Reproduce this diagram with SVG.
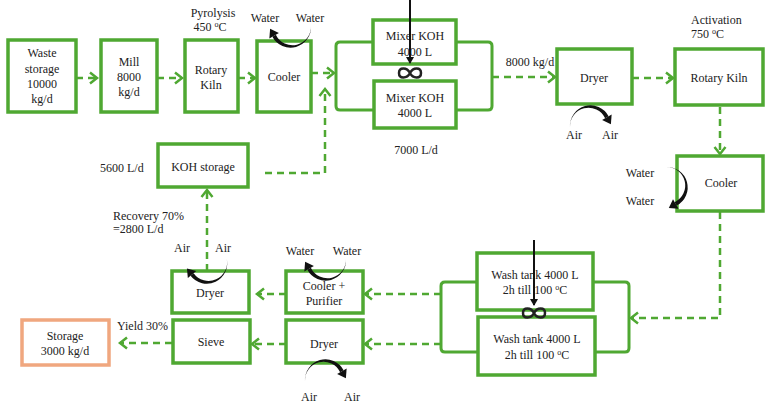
<svg xmlns="http://www.w3.org/2000/svg" width="766" height="405" viewBox="0 0 766 405">
<style>
  .box{fill:#fff;stroke:#4FA832;stroke-width:3.5}
  .box2{fill:#fff;stroke:#F0A77F;stroke-width:3.5}
  text{font-family:"Liberation Serif","Times New Roman",serif;font-size:12px;fill:#222}
  .c{text-anchor:middle}
  .flow{fill:none;stroke:#4FA832;stroke-width:2.5;stroke-dasharray:7 5;marker-end:url(#chev)}
  .brk{fill:none;stroke:#4FA832;stroke-width:3}
  .blk{fill:none;stroke:#111;stroke-width:2;marker-end:url(#bh)}
  .inf{fill:none;stroke:#222;stroke-width:2.5}
  .carr{fill:#111}
  sup,.sup{font-size:8px}
</style>
<defs>
  <marker id="chev" markerUnits="userSpaceOnUse" markerWidth="12" markerHeight="14" refX="8" refY="6" orient="auto" overflow="visible">
    <path d="M1,0.5 L8,6 L1,11.5" fill="none" stroke="#4FA832" stroke-width="2.5"/>
  </marker>
  <marker id="bh" markerUnits="userSpaceOnUse" markerWidth="10" markerHeight="10" refX="6" refY="4" orient="auto" overflow="visible">
    <path d="M0,0 L7,4 L0,8 Z" fill="#111"/>
  </marker>
  <g id="carc">
    <path d="M20,0 A20.5,20.5 0 0 1 -18.6,10.75 L-15.16,8.75 A18.5,18.5 0 0 0 20,0 Z"/>
    <path d="M-21.65,12.5 L-12.13,7 L-20.89,2.82 Z"/>
  </g>
  <path id="lem" d="M0,0 C3,-6 11,-6 11,0 C11,6 3,6 0,0 C-3,-6 -11,-6 -11,0 C-11,6 -3,6 0,0 Z"/>
</defs>

<g id="connectors">
  <path class="flow" d="M76,78 H97"/>
  <path class="flow" d="M157,78 H182"/>
  <path class="flow" d="M238,78 H255"/>
  <path class="flow" d="M311,73 H334"/>
  <path class="flow" d="M265,173 H325 V89"/>
  <path class="flow" d="M492,77 H555"/>
  <path class="flow" d="M632,78 H673"/>
  <path class="flow" d="M720,107 V154"/>
  <path class="flow" d="M720,212 V318 H631"/>
  <path class="flow" d="M441,294 H365"/>
  <path class="flow" d="M441,344 H365"/>
  <path class="flow" d="M286,294 H257"/>
  <path class="flow" d="M286,344 H252"/>
  <path class="flow" d="M172,343 H120"/>
  <path class="flow" d="M207,271 V190"/>
  <path class="brk" d="M373,42 H340 Q336,42 336,46 V106 Q336,110 340,110 H374"/>
  <path class="brk" d="M456,42 H488 Q492,42 492,46 V106 Q492,110 488,110 H456"/>
  <path class="brk" d="M477,282 H445 Q441,282 441,286 V348 Q441,352 445,352 H478"/>
  <path class="brk" d="M593,282 H625 Q629,282 629,286 V348 Q629,352 625,352 H595"/>
</g>

<g id="waste"><rect class="box" x="8" y="40" width="68" height="72"/>
  <text class="c" x="42" y="57">Waste</text><text class="c" x="42" y="73">storage</text><text class="c" x="42" y="88">10000</text><text class="c" x="42" y="103">kg/d</text></g>
<g id="mill"><rect class="box" x="101" y="40" width="56" height="72"/>
  <text class="c" x="129" y="66">Mill</text><text class="c" x="129" y="81">8000</text><text class="c" x="129" y="96">kg/d</text></g>
<g id="kiln1"><rect class="box" x="185" y="40" width="53" height="72"/>
  <text class="c" x="211" y="74">Rotary</text><text class="c" x="211" y="89">Kiln</text>
  <text class="c" x="213" y="17">Pyrolysis</text><text class="c" x="210" y="31">450 <tspan class="sup" dy="-4">o</tspan><tspan dy="4">C</tspan></text></g>
<g id="cooler1"><rect class="box" x="257" y="41" width="54" height="71"/>
  <text class="c" x="284" y="81">Cooler</text>
  <text class="c" x="265" y="22">Water</text><text class="c" x="310" y="22">Water</text>
  <use href="#carc" class="carr" transform="translate(291,26)"/></g>
<g id="mixer"><rect class="box" x="373" y="20" width="83" height="44"/>
  <text class="c" x="415" y="40">Mixer KOH</text><text class="c" x="415" y="56">4000 L</text>
  <rect class="box" x="374" y="81" width="82" height="47"/>
  <text class="c" x="415" y="102">Mixer KOH</text><text class="c" x="415" y="117">4000 L</text>
  <use href="#lem" class="inf" transform="translate(410,73)"/>
  <path class="blk" d="M410,0 V63"/>
  <text class="c" x="530" y="66">8000 kg/d</text>
  <text class="c" x="416" y="154">7000  L/d</text></g>
<g id="dryer1"><rect class="box" x="557" y="49" width="75" height="55"/>
  <text class="c" x="594" y="82">Dryer</text>
  <use href="#carc" class="carr" transform="translate(590,127) rotate(180)"/>
  <text class="c" x="574" y="139">Air</text><text class="c" x="610" y="139">Air</text></g>
<g id="kiln2"><rect class="box" x="675" y="49" width="88" height="56"/>
  <text class="c" x="719" y="82">Rotary Kiln</text>
  <text x="691" y="24">Activation</text><text x="691" y="38">750 <tspan class="sup" dy="-4">o</tspan><tspan dy="4">C</tspan></text></g>
<g id="cooler2"><rect class="box" x="677" y="156" width="86" height="55"/>
  <text class="c" x="721" y="187">Cooler</text>
  <text class="c" x="640" y="177">Water</text><text class="c" x="640" y="205">Water</text>
  <use href="#carc" class="carr" transform="translate(666,187) rotate(-90)"/></g>
<g id="wash"><rect class="box" x="477" y="253" width="116" height="57"/>
  <text class="c" x="535" y="279">Wash tank 4000 L</text><text class="c" x="535" y="294">2h till 100 <tspan class="sup" dy="-4">o</tspan><tspan dy="4">C</tspan></text>
  <rect class="box" x="478" y="317" width="117" height="58"/>
  <text class="c" x="537" y="343">Wash tank 4000 L</text><text class="c" x="537" y="359">2h till 100 <tspan class="sup" dy="-4">o</tspan><tspan dy="4">C</tspan></text>
  <path class="blk" d="M534,240 V305"/>
  <use href="#lem" class="inf" transform="translate(534,313)"/></g>
<g id="koh"><rect class="box" x="158" y="144" width="90" height="43"/>
  <text class="c" x="203" y="171">KOH storage</text>
  <text x="100" y="172">5600  L/d</text>
  <text x="113" y="220">Recovery 70%</text><text x="113" y="233">=2800 L/d</text></g>
<g id="dryer2"><rect class="box" x="172" y="271" width="77" height="42"/>
  <text class="c" x="210" y="297">Dryer</text>
  <text class="c" x="182" y="252">Air</text><text class="c" x="223" y="252">Air</text>
  <use href="#carc" class="carr" transform="translate(207,262) rotate(-10)"/></g>
<g id="coolpur"><rect class="box" x="286" y="271" width="77" height="42"/>
  <text class="c" x="324" y="290">Cooler +</text><text class="c" x="324" y="305">Purifier</text>
  <text class="c" x="300" y="255">Water</text><text class="c" x="347" y="255">Water</text>
  <use href="#carc" class="carr" transform="translate(326,259)"/></g>
<g id="sieve"><rect class="box" x="173" y="320" width="77" height="43"/>
  <text class="c" x="211" y="346">Sieve</text>
  <text x="117" y="330">Yield 30%</text></g>
<g id="dryer3"><rect class="box" x="286" y="320" width="77" height="43"/>
  <text class="c" x="324" y="348">Dryer</text>
  <use href="#carc" class="carr" transform="translate(325,381) rotate(180)"/>
  <text class="c" x="309" y="401">Air</text><text class="c" x="352" y="401">Air</text></g>
<g id="storage"><rect class="box2" x="22" y="320" width="87" height="45"/>
  <text class="c" x="65" y="340">Storage</text><text class="c" x="65" y="355">3000 kg/d</text></g>
</svg>
